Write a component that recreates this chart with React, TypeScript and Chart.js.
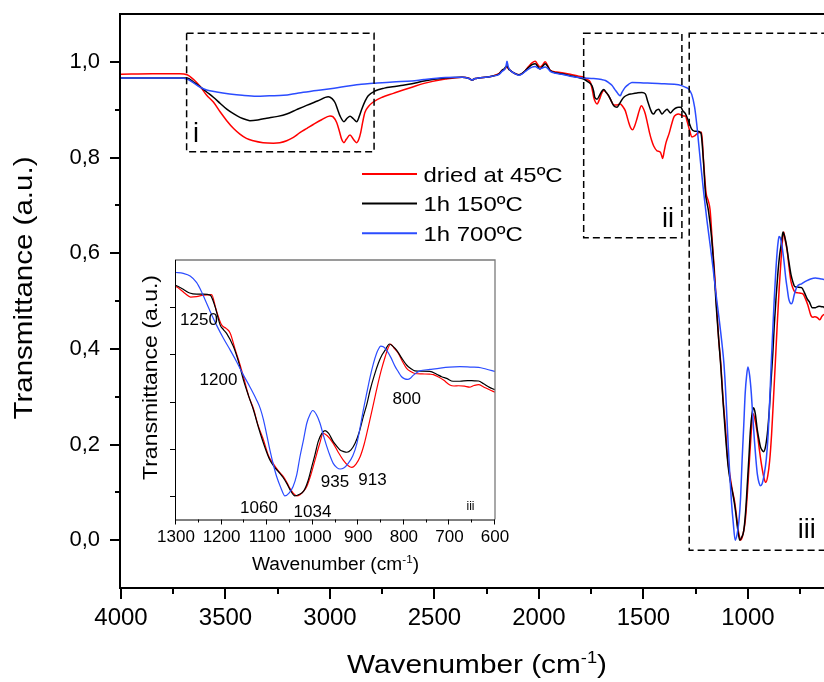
import React, { useEffect, useRef } from 'react';
import { Chart, registerables } from 'chart.js';

Chart.register(...registerables);

const FONT = '"Liberation Sans", Arial, Helvetica, sans-serif';

const seriesLabels = ['dried at 45ºC', '1h 150ºC', '1h 700ºC'];
const seriesColors = ['#ff0000', '#000000', '#2b4cff'];

// [wavenumber (cm-1), transmittance]
const driedPoints: [number, number][] = [
  [4000, 0.974], [3850, 0.975], [3720, 0.975], [3684, 0.973], [3650, 0.962], [3622, 0.949], [3590, 0.93],
  [3558, 0.916], [3525, 0.895], [3494, 0.877], [3460, 0.86], [3431, 0.849], [3400, 0.84], [3367, 0.835],
  [3320, 0.831], [3271, 0.83], [3240, 0.831], [3207, 0.835], [3175, 0.842], [3144, 0.852], [3110, 0.861],
  [3080, 0.869], [3040, 0.879], [3000, 0.887], [2985, 0.885], [2968, 0.873], [2955, 0.855], [2944, 0.838],
  [2933, 0.831], [2922, 0.838], [2904, 0.847], [2888, 0.838], [2872, 0.831], [2862, 0.838], [2853, 0.852],
  [2843, 0.875], [2833, 0.894], [2815, 0.907], [2793, 0.916], [2750, 0.926], [2697, 0.934], [2650, 0.941],
  [2608, 0.947], [2550, 0.955], [2448, 0.964], [2368, 0.968], [2335, 0.966], [2321, 0.962], [2305, 0.965],
  [2289, 0.966], [2225, 0.97], [2190, 0.976], [2177, 0.982], [2165, 0.984], [2153, 0.989], [2145, 0.985],
  [2137, 0.982], [2113, 0.975], [2096, 0.973], [2080, 0.976], [2065, 0.982], [2050, 0.99], [2033, 0.998],
  [2018, 1.001], [2005, 0.994], [1995, 0.989], [1985, 0.992], [1970, 1.0], [1958, 0.992], [1946, 0.982],
  [1920, 0.979], [1890, 0.977], [1850, 0.974], [1810, 0.97], [1786, 0.968], [1770, 0.963], [1754, 0.957],
  [1745, 0.942], [1738, 0.926], [1730, 0.916], [1722, 0.912], [1710, 0.922], [1700, 0.934], [1690, 0.94],
  [1675, 0.934], [1658, 0.922], [1642, 0.91], [1626, 0.91], [1611, 0.912], [1598, 0.906], [1587, 0.898],
  [1578, 0.885], [1571, 0.874], [1561, 0.862], [1552, 0.858], [1542, 0.866], [1531, 0.881], [1520, 0.898],
  [1510, 0.908], [1500, 0.902], [1491, 0.891], [1481, 0.872], [1471, 0.852], [1461, 0.836], [1451, 0.824],
  [1435, 0.814], [1419, 0.811], [1413, 0.804], [1408, 0.798], [1400, 0.815], [1392, 0.831], [1376, 0.852],
  [1365, 0.87], [1355, 0.884], [1345, 0.889], [1332, 0.891], [1320, 0.889], [1308, 0.887], [1300, 0.887],
  [1290, 0.874], [1280, 0.858], [1268, 0.843], [1255, 0.845], [1240, 0.851], [1222, 0.853], [1212, 0.79],
  [1200, 0.725], [1190, 0.71], [1181, 0.69], [1170, 0.62], [1160, 0.56], [1152, 0.505], [1140, 0.42],
  [1130, 0.37], [1120, 0.3], [1108, 0.237], [1097, 0.17], [1087, 0.138], [1075, 0.105], [1064, 0.081],
  [1056, 0.055], [1050, 0.032], [1042, 0.01], [1035, 0.0], [1028, 0.005], [1020, 0.02], [1013, 0.04],
  [1004, 0.09], [995, 0.152], [985, 0.22], [977, 0.265], [968, 0.255], [955, 0.223], [944, 0.185],
  [933, 0.152], [922, 0.128], [914, 0.121], [905, 0.135], [896, 0.166], [887, 0.22], [878, 0.293],
  [869, 0.37], [860, 0.449], [850, 0.53], [841, 0.59], [835, 0.625], [829, 0.644], [822, 0.628],
  [812, 0.604], [803, 0.57], [794, 0.541], [785, 0.527], [776, 0.519], [760, 0.517], [743, 0.516],
  [735, 0.514], [725, 0.505], [713, 0.491], [699, 0.47], [690, 0.466], [680, 0.467], [667, 0.465],
  [656, 0.461], [646, 0.468], [636, 0.472], [625, 0.462], [612, 0.45], [600, 0.44],
];

const h150Points: [number, number][] = [
  [4000, 0.966], [3850, 0.966], [3720, 0.966], [3684, 0.966], [3650, 0.957], [3622, 0.948], [3590, 0.937],
  [3558, 0.926], [3525, 0.913], [3494, 0.901], [3460, 0.891], [3431, 0.884], [3400, 0.879], [3383, 0.877],
  [3340, 0.879], [3303, 0.882], [3250, 0.886], [3207, 0.891], [3160, 0.9], [3112, 0.909], [3060, 0.918],
  [3008, 0.927], [2990, 0.923], [2976, 0.915], [2963, 0.9], [2952, 0.887], [2933, 0.875], [2918, 0.882],
  [2904, 0.886], [2888, 0.881], [2872, 0.875], [2860, 0.886], [2848, 0.901], [2832, 0.918], [2817, 0.929],
  [2785, 0.939], [2740, 0.945], [2700, 0.948], [2650, 0.951], [2608, 0.954], [2550, 0.96], [2448, 0.966],
  [2368, 0.968], [2335, 0.965], [2321, 0.962], [2305, 0.965], [2289, 0.966], [2225, 0.97], [2190, 0.975],
  [2177, 0.982], [2165, 0.986], [2153, 0.992], [2145, 0.985], [2137, 0.982], [2113, 0.975], [2096, 0.973],
  [2080, 0.976], [2065, 0.982], [2050, 0.988], [2033, 0.994], [2018, 0.996], [2005, 0.99], [1995, 0.985],
  [1985, 0.989], [1970, 0.996], [1958, 0.99], [1946, 0.982], [1920, 0.977], [1890, 0.975], [1850, 0.971],
  [1810, 0.967], [1786, 0.964], [1765, 0.958], [1746, 0.95], [1738, 0.938], [1733, 0.926], [1722, 0.922],
  [1710, 0.93], [1700, 0.938], [1690, 0.942], [1678, 0.936], [1666, 0.929], [1654, 0.918], [1642, 0.908],
  [1626, 0.905], [1615, 0.912], [1604, 0.92], [1594, 0.926], [1575, 0.931], [1555, 0.933], [1530, 0.935],
  [1507, 0.936], [1491, 0.933], [1480, 0.918], [1467, 0.901], [1459, 0.893], [1451, 0.891], [1440, 0.898],
  [1427, 0.901], [1418, 0.895], [1411, 0.891], [1400, 0.896], [1387, 0.901], [1379, 0.897], [1371, 0.893],
  [1360, 0.898], [1347, 0.903], [1332, 0.905], [1321, 0.905], [1312, 0.898], [1300, 0.892], [1285, 0.877],
  [1270, 0.86], [1255, 0.855], [1240, 0.855], [1225, 0.851], [1214, 0.8], [1203, 0.724], [1196, 0.705],
  [1189, 0.689], [1174, 0.633], [1163, 0.57], [1152, 0.491], [1140, 0.42], [1130, 0.364], [1119, 0.29],
  [1108, 0.223], [1094, 0.152], [1083, 0.12], [1072, 0.096], [1065, 0.078], [1057, 0.053], [1048, 0.02],
  [1039, 0.0], [1030, 0.006], [1020, 0.02], [1011, 0.06], [1002, 0.124], [995, 0.175], [988, 0.23],
  [980, 0.265], [973, 0.277], [965, 0.265], [955, 0.23], [947, 0.21], [940, 0.195], [932, 0.188],
  [925, 0.185], [916, 0.195], [907, 0.223], [898, 0.27], [889, 0.336], [881, 0.39], [874, 0.449],
  [865, 0.51], [856, 0.562], [848, 0.597], [841, 0.618], [836, 0.635], [832, 0.644], [825, 0.636],
  [816, 0.618], [805, 0.585], [794, 0.555], [785, 0.54], [776, 0.53], [760, 0.529], [743, 0.528],
  [728, 0.516], [717, 0.505], [706, 0.498], [692, 0.486], [677, 0.486], [660, 0.489], [645, 0.488],
  [636, 0.487], [625, 0.475], [612, 0.46], [600, 0.45],
];

const h700Points: [number, number][] = [
  [4000, 0.966], [3850, 0.966], [3720, 0.966], [3684, 0.964], [3650, 0.955], [3622, 0.947], [3590, 0.941],
  [3542, 0.937], [3480, 0.933], [3420, 0.93], [3351, 0.928], [3290, 0.929], [3223, 0.93], [3150, 0.935],
  [3064, 0.94], [2980, 0.945], [2904, 0.95], [2850, 0.953], [2793, 0.955], [2700, 0.958], [2608, 0.96],
  [2550, 0.963], [2448, 0.967], [2368, 0.968], [2335, 0.965], [2321, 0.962], [2305, 0.965], [2289, 0.966],
  [2225, 0.97], [2190, 0.974], [2177, 0.98], [2165, 0.984], [2158, 0.99], [2153, 1.001], [2147, 0.99],
  [2137, 0.982], [2113, 0.975], [2096, 0.972], [2080, 0.975], [2065, 0.98], [2050, 0.985], [2033, 0.989],
  [2018, 0.99], [2005, 0.987], [1995, 0.985], [1985, 0.987], [1970, 0.989], [1958, 0.986], [1946, 0.98],
  [1920, 0.976], [1890, 0.974], [1850, 0.97], [1810, 0.967], [1786, 0.966], [1740, 0.965], [1700, 0.963],
  [1682, 0.961], [1665, 0.956], [1651, 0.951], [1638, 0.943], [1626, 0.936], [1618, 0.931], [1611, 0.929],
  [1603, 0.936], [1595, 0.942], [1587, 0.947], [1571, 0.953], [1555, 0.957], [1500, 0.956], [1459, 0.955],
  [1400, 0.954], [1332, 0.952], [1300, 0.947], [1284, 0.943], [1269, 0.932], [1255, 0.905], [1245, 0.87],
  [1240, 0.848], [1225, 0.782], [1211, 0.724], [1196, 0.668], [1181, 0.618], [1167, 0.569], [1152, 0.512],
  [1138, 0.463], [1123, 0.406], [1115, 0.37], [1108, 0.322], [1101, 0.26], [1094, 0.195], [1086, 0.13],
  [1079, 0.081], [1070, 0.035], [1061, 0.0], [1052, 0.012], [1043, 0.04], [1035, 0.09], [1028, 0.166],
  [1020, 0.24], [1013, 0.308], [1006, 0.345], [1000, 0.362], [992, 0.345], [984, 0.308], [977, 0.26],
  [969, 0.209], [962, 0.17], [955, 0.138], [947, 0.12], [940, 0.114], [932, 0.118], [922, 0.138],
  [912, 0.17], [903, 0.223], [896, 0.29], [889, 0.364], [881, 0.44], [874, 0.505], [867, 0.56],
  [860, 0.604], [855, 0.625], [851, 0.635], [845, 0.632], [838, 0.618], [828, 0.585], [819, 0.548],
  [812, 0.526], [805, 0.505], [798, 0.496], [792, 0.494], [785, 0.5], [779, 0.512], [765, 0.53],
  [743, 0.536], [720, 0.542], [700, 0.546], [677, 0.548], [650, 0.546], [636, 0.545], [620, 0.538],
  [600, 0.528],
];

const seriesPoints = [driedPoints, h150Points, h700Points];

// main axes
const mainXMin = 636;
const mainXMax = 4000;
const mainYMin = -0.1;
const mainYMax = 1.1;
const mainXMajor = [4000, 3500, 3000, 2500, 2000, 1500, 1000];
const mainXMinor = [3750, 3250, 2750, 2250, 1750, 1250, 750];
const mainYMajor = [0, 0.2, 0.4, 0.6, 0.8, 1.0];
const mainYMinor = [0.1, 0.3, 0.5, 0.7, 0.9];

// inset axes
const insetXMin = 600;
const insetXMax = 1300;
const insetYMin = -0.1;
const insetYMax = 1.0;
const insetXMajor = [1300, 1200, 1100, 1000, 900, 800, 700, 600];
const insetXMinor = [1250, 1150, 1050, 950, 850, 750, 650];
const insetYMajor = [0, 0.2, 0.4, 0.6, 0.8];

// dashed regions (main chart, data units)
const regionNames = ['i', 'ii', 'iii'];
const regionWnFrom = [3686, 1786, 1281];
const regionWnTo = [2789, 1316, 560];
const regionTTop = [1.06, 1.06, 1.06];
const regionTBottom = [0.812, 0.632, -0.021];
const regionLabelWn = [3641, 1383, 718];
const regionLabelT = [0.832, 0.654, 0.004];

// inset band labels (inset data units)
const bandLabels = ['1250', '1200', '1060', '1034', '935', '913', '800'];
const bandLabelWn = [1249.5, 1206.7, 1117.9, 1000.5, 951, 868.8, 793.7];
const bandLabelT = [0.724, 0.47, -0.072, -0.088, 0.039, 0.046, 0.389];
const insetTag = 'iii';
const insetTagWn = 653.7;
const insetTagT = -0.06;

function makeDatasets(width: number) {
  return seriesPoints.map((pts, i) => ({
    label: seriesLabels[i],
    data: pts.map(([x, y]) => ({ x, y })),
    borderColor: seriesColors[i],
    backgroundColor: seriesColors[i],
    borderWidth: width,
    pointRadius: 0,
    fill: false,
    cubicInterpolationMode: 'monotone' as const,
    order: seriesPoints.length - 1 - i,
  }));
}

function stretchedText(ctx: CanvasRenderingContext2D, text: string, x: number, y: number, size: number, sx: number, align: string) {
  ctx.font = `${size}px ${FONT}`;
  const w = ctx.measureText(text).width * sx;
  const x0 = align === 'center' ? x - w / 2 : align === 'right' ? x - w : x;
  ctx.save();
  ctx.translate(x0, y);
  ctx.scale(sx, 1);
  ctx.textAlign = 'left';
  ctx.textBaseline = 'alphabetic';
  ctx.fillText(text, 0, 0);
  ctx.restore();
}

function axisTitle(ctx: CanvasRenderingContext2D, pre: string, sup: string, post: string, size: number,
  length: number, cx: number, cy: number, vertical: boolean) {
  const base = `${size}px ${FONT}`;
  const small = `${Math.round(size * 0.6)}px ${FONT}`;
  ctx.font = base;
  const w1 = ctx.measureText(pre).width;
  const w3 = ctx.measureText(post).width;
  ctx.font = small;
  const w2 = sup ? ctx.measureText(sup).width : 0;
  const natural = w1 + w2 + w3;
  const sx = length / natural;
  ctx.save();
  ctx.translate(cx, cy);
  if (vertical) ctx.rotate(-Math.PI / 2);
  ctx.scale(sx, 1);
  ctx.fillStyle = '#000';
  ctx.textAlign = 'left';
  ctx.textBaseline = 'alphabetic';
  let x = -natural / 2;
  ctx.font = base;
  ctx.fillText(pre, x, 0);
  x += w1;
  if (sup) {
    ctx.font = small;
    ctx.fillText(sup, x, -size * 0.4);
    x += w2;
  }
  ctx.font = base;
  ctx.fillText(post, x, 0);
  ctx.restore();
}

const mainDecor = {
  id: 'mainDecor',
  afterDraw(chart: any) {
    const { ctx, chartArea: a } = chart;
    const xs = chart.scales.x;
    const ys = chart.scales.y;
    ctx.save();
    ctx.strokeStyle = '#000';
    ctx.fillStyle = '#000';
    ctx.lineWidth = 2;
    ctx.setLineDash([]);
    ctx.beginPath();
    ctx.moveTo(a.left - 1, a.top - 1);
    ctx.lineTo(a.left - 1, a.bottom + 1);
    ctx.moveTo(a.left - 2, a.bottom);
    ctx.lineTo(a.right, a.bottom);
    ctx.moveTo(a.left - 2, a.top);
    ctx.lineTo(a.right, a.top);
    mainXMajor.forEach((v) => {
      const p = Math.round(xs.getPixelForValue(v));
      ctx.moveTo(p, a.bottom);
      ctx.lineTo(p, a.bottom + 11);
    });
    mainXMinor.forEach((v) => {
      const p = Math.round(xs.getPixelForValue(v));
      ctx.moveTo(p, a.bottom);
      ctx.lineTo(p, a.bottom + 6);
    });
    mainYMajor.forEach((v) => {
      const p = Math.round(ys.getPixelForValue(v));
      ctx.moveTo(a.left - 1, p);
      ctx.lineTo(a.left - 11, p);
    });
    mainYMinor.forEach((v) => {
      const p = Math.round(ys.getPixelForValue(v));
      ctx.moveTo(a.left - 1, p);
      ctx.lineTo(a.left - 6, p);
    });
    ctx.stroke();

    // dashed regions
    ctx.lineWidth = 1.5;
    ctx.setLineDash([7, 4]);
    regionNames.forEach((name, i) => {
      const x1 = xs.getPixelForValue(regionWnFrom[i]);
      const x2 = xs.getPixelForValue(regionWnTo[i]);
      const y1 = ys.getPixelForValue(regionTTop[i]);
      const y2 = ys.getPixelForValue(regionTBottom[i]);
      ctx.strokeRect(x1, y1, x2 - x1, y2 - y1);
    });
    ctx.setLineDash([]);
    regionNames.forEach((name, i) => {
      stretchedText(ctx, name, xs.getPixelForValue(regionLabelWn[i]), ys.getPixelForValue(regionLabelT[i]), 27, 1, 'center');
    });

    // legend
    const rowY = [174, 203.5, 233.3];
    chart.data.datasets.forEach((ds: any, i: number) => {
      ctx.strokeStyle = ds.borderColor;
      ctx.lineWidth = 2;
      ctx.beginPath();
      ctx.moveTo(362, rowY[i]);
      ctx.lineTo(417, rowY[i]);
      ctx.stroke();
      ctx.fillStyle = '#000';
      stretchedText(ctx, ds.label, 423.5, rowY[i] + 7.8, 21, 1.14, 'left');
    });

    // axis titles
    axisTitle(ctx, 'Wavenumber (cm', '-1', ')', 26, 260, 477, 673, false);
    axisTitle(ctx, 'Transmittance (a.u.)', '', '', 26, 263, 32, 288, true);
    ctx.restore();
  },
};

const insetDecor = {
  id: 'insetDecor',
  afterDraw(chart: any) {
    const { ctx, chartArea: a } = chart;
    const xs = chart.scales.x;
    const ys = chart.scales.y;
    ctx.save();
    ctx.setLineDash([]);
    // frame top/right
    ctx.strokeStyle = '#7a7a7a';
    ctx.lineWidth = 1.3;
    ctx.beginPath();
    ctx.moveTo(a.left - 1, a.top);
    ctx.lineTo(a.right, a.top);
    ctx.lineTo(a.right, a.bottom);
    ctx.stroke();
    // axes
    ctx.strokeStyle = '#000';
    ctx.lineWidth = 1;
    ctx.beginPath();
    ctx.moveTo(a.left - 0.5, a.top);
    ctx.lineTo(a.left - 0.5, a.bottom + 0.5);
    ctx.lineTo(a.right, a.bottom + 0.5);
    insetXMajor.forEach((v) => {
      const p = Math.round(xs.getPixelForValue(v)) - 0.5;
      ctx.moveTo(p, a.bottom);
      ctx.lineTo(p, a.bottom + 5);
    });
    insetXMinor.forEach((v) => {
      const p = Math.round(xs.getPixelForValue(v)) - 0.5;
      ctx.moveTo(p, a.bottom);
      ctx.lineTo(p, a.bottom + 3);
    });
    insetYMajor.forEach((v) => {
      const p = Math.round(ys.getPixelForValue(v)) + 0.5;
      ctx.moveTo(a.left - 1, p);
      ctx.lineTo(a.left - 6, p);
    });
    ctx.stroke();

    ctx.fillStyle = '#000';
    bandLabels.forEach((t, i) => {
      stretchedText(ctx, t, xs.getPixelForValue(bandLabelWn[i]), ys.getPixelForValue(bandLabelT[i]), 17, 1, 'center');
    });
    stretchedText(ctx, insetTag, xs.getPixelForValue(insetTagWn), ys.getPixelForValue(insetTagT), 12, 1, 'center');

    axisTitle(ctx, 'Wavenumber (cm', '-1', ')', 18, 167, (a.left + a.right) / 2, 325, false);
    axisTitle(ctx, 'Transmittance (a.u.)', '', '', 20, 205, 32.3, 132.5, true);
    ctx.restore();
  },
};

export default function App() {
  const mainRef = useRef<HTMLCanvasElement>(null);
  const insetRef = useRef<HTMLCanvasElement>(null);

  useEffect(() => {
    const main = new Chart(mainRef.current as HTMLCanvasElement, {
      type: 'line',
      data: { datasets: makeDatasets(1.5) as any },
      options: {
        animation: false,
        responsive: false,
        devicePixelRatio: 1,
        events: [],
        layout: { padding: { top: 14, left: 0, right: 0, bottom: 0 } },
        plugins: { legend: { display: false }, tooltip: { enabled: false }, title: { display: false } },
        scales: {
          x: {
            type: 'linear',
            reverse: true,
            min: mainXMin,
            max: mainXMax,
            grid: { display: false, drawTicks: false },
            border: { display: false },
            ticks: {
              autoSkip: false,
              maxRotation: 0,
              minRotation: 0,
              padding: 16,
              color: '#000',
              font: { family: FONT, size: 24 },
              callback: (v: any) => String(v),
            },
            afterBuildTicks: (s: any) => { s.ticks = mainXMajor.map((v) => ({ value: v })); },
            afterFit: (s: any) => { s.height = 94; s.paddingLeft = 0; s.paddingRight = 0; },
          },
          y: {
            type: 'linear',
            min: mainYMin,
            max: mainYMax,
            grid: { display: false, drawTicks: false },
            border: { display: false },
            ticks: {
              autoSkip: false,
              padding: 21,
              color: '#000',
              font: { family: FONT, size: 22 },
              callback: (v: any) => Number(v).toFixed(1).replace('.', ','),
            },
            afterBuildTicks: (s: any) => { s.ticks = mainYMajor.map((v) => ({ value: v })); },
            afterFit: (s: any) => { s.width = 121; s.paddingTop = 0; s.paddingBottom = 0; },
          },
        },
      } as any,
      plugins: [mainDecor],
    });

    const inset = new Chart(insetRef.current as HTMLCanvasElement, {
      type: 'line',
      data: { datasets: makeDatasets(1.2) as any },
      options: {
        animation: false,
        responsive: false,
        devicePixelRatio: 1,
        events: [],
        layout: { padding: { top: 15, left: 0, right: 20, bottom: 0 } },
        plugins: { legend: { display: false }, tooltip: { enabled: false }, title: { display: false } },
        scales: {
          x: {
            type: 'linear',
            reverse: true,
            min: insetXMin,
            max: insetXMax,
            grid: { display: false, drawTicks: false },
            border: { display: false },
            ticks: {
              autoSkip: false,
              maxRotation: 0,
              minRotation: 0,
              padding: 8,
              color: '#000',
              font: { family: FONT, size: 17 },
              callback: (v: any) => String(v),
            },
            afterBuildTicks: (s: any) => { s.ticks = insetXMajor.map((v) => ({ value: v })); },
            afterFit: (s: any) => { s.height = 65.5; s.paddingLeft = 0; s.paddingRight = 0; },
          },
          y: {
            type: 'linear',
            min: insetYMin,
            max: insetYMax,
            grid: { display: false, drawTicks: false },
            border: { display: false },
            ticks: { display: false },
            afterBuildTicks: (s: any) => { s.ticks = insetYMajor.map((v) => ({ value: v })); },
            afterFit: (s: any) => { s.width = 51; s.paddingTop = 0; s.paddingBottom = 0; },
          },
        },
      } as any,
      plugins: [insetDecor],
    });

    return () => {
      main.destroy();
      inset.destroy();
    };
  }, []);

  return (
    <div style={{ position: 'absolute', left: 0, top: 0, width: 824, height: 682, overflow: 'hidden', background: '#fff' }}>
      <canvas ref={mainRef} width={824} height={682}
        style={{ position: 'absolute', left: 0, top: 0, width: 824, height: 682, display: 'block' }} />
      <canvas ref={insetRef} width={390} height={340}
        style={{ position: 'absolute', left: 125, top: 245, width: 390, height: 340, display: 'block' }} />
    </div>
  );
}
